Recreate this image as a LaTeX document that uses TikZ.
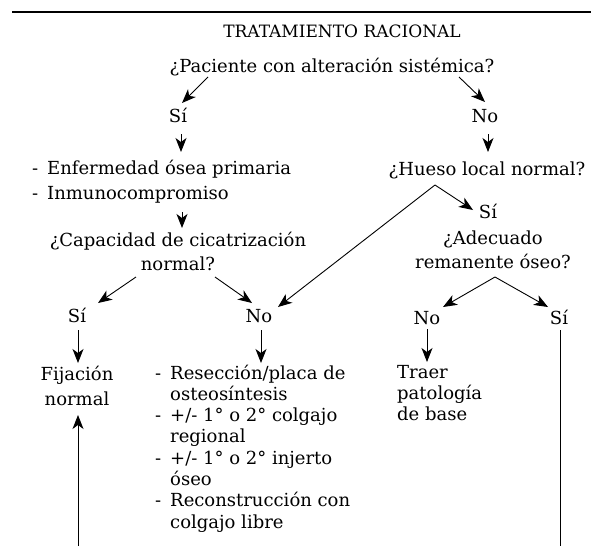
\documentclass[tikz,border=0pt]{standalone}
\usepackage{fontspec}
\setmainfont{DejaVu Serif}
\usetikzlibrary{arrows.meta}
\newcommand\blk[2]{\begin{tabular}[t]{@{}#1@{}}#2\end{tabular}}
\newcommand\itm[1]{\makebox[15pt][l]{-}#1}
\newcommand\cnt[1]{\hspace*{15pt}#1}
\begin{document}
\begin{tikzpicture}[x=1pt,y=1pt,
  txt/.style={inner sep=0pt, anchor=base, font=\fontsize{18}{21}\selectfont},
  txtl/.style={txt, anchor=base west},
  arr/.style={line width=0.9pt, -{Stealth[length=14pt,width=11pt,inset=4pt,fill=black]}},
  ln/.style={line width=0.9pt}]
\useasboundingbox (0,0) rectangle (591,-546);
\draw[line width=1.3pt] (12,-12) -- (591,-12);
% nodes
\node[txt, font=\fontsize{17}{21}\selectfont] (title) at (342,-37) {TRATAMIENTO RACIONAL};
\node[txt] (q1) at (332,-72) {¿Paciente con alteración sistémica?};
\node[txt] (si1) at (178,-122) {Sí};
\node[txt] (no1) at (485,-122) {No};
\node[txtl, font=\fontsize{18}{25}\selectfont] (l1) at (32,-174) {\blk{l}{\itm{Enfermedad ósea primaria}\\\itm{Inmunocompromiso}}};
\node[txt, font=\fontsize{18}{24}\selectfont] (q2) at (178,-246) {\blk{c}{¿Capacidad de cicatrización\\normal?}};
\node[txt] (q3) at (487,-175) {¿Hueso local normal?};
\node[txt] (si3) at (488,-218) {Sí};
\node[txt, font=\fontsize{18}{24}\selectfont] (q4) at (493,-244) {\blk{c}{¿Adecuado\\remanente óseo?}};
\node[txt] (si2) at (77,-322) {Sí};
\node[txt] (no2) at (259,-322) {No};
\node[txt] (no4) at (427,-324) {No};
\node[txt] (si4) at (559,-324) {Sí};
\node[txt, font=\fontsize{18}{25}\selectfont] (fij) at (77,-380) {\blk{c}{Fijación\\normal}};
\node[txtl, font=\fontsize{18}{21.3}\selectfont] (res) at (155,-379) {\blk{l}{\itm{Resección/placa de}\\\cnt{osteosíntesis}\\\itm{+/- 1° o 2° colgajo}\\\cnt{regional}\\\itm{+/- 1° o 2° injerto}\\\cnt{óseo}\\\itm{Reconstrucción con}\\\cnt{colgajo libre}}};
\node[txtl, font=\fontsize{18}{21}\selectfont] (tr) at (397,-378) {\blk{l}{Traer\\patología\\de base}};
\coordinate (b1) at (78,-546);
\coordinate (b2) at (560,-546);
% connectors
\draw[arr] ([shift={(-124,-5)}]q1.base) -- ([shift={(4,19)}]si1.base);
\draw[arr] ([shift={(127,-5)}]q1.base) -- ([shift={(0,20)}]no1.base);
\draw[arr] ([shift={(3,-12)}]si1.base) -- ([shift={(149,22)}]l1.base west);
\draw[arr] ([shift={(3,-12)}]no1.base) -- ([shift={(1,23)}]q3.base);
\draw[arr] ([shift={(150,-38)}]l1.base west) -- ([shift={(4,18)}]q2.base);
\draw[arr] ([shift={(-42,-31)}]q2.base) -- ([shift={(21,19)}]si2.base);
\draw[arr] ([shift={(37,-31)}]q2.base) -- ([shift={(-7,19)}]no2.base);
\draw[arr] ([shift={(-52,-10)}]q3.base) -- ([shift={(-15,8)}]si3.base);
\draw[arr] ([shift={(-52,-10)}]q3.base) -- ([shift={(19,15)}]no2.base);
\draw[arr] ([shift={(2,-33)}]q4.base) -- ([shift={(16,17)}]no4.base);
\draw[arr] ([shift={(2,-33)}]q4.base) -- ([shift={(-11,17)}]si4.base);
\draw[arr] ([shift={(1,-8)}]si2.base) -- ([shift={(1,17)}]fij.base);
\draw[arr] ([shift={(2,-8)}]no2.base) -- ([shift={(106,16)}]res.base west);
\draw[arr] ([shift={(0,-5)}]no4.base) -- ([shift={(30,16)}]tr.base west);
\draw[ln] ([shift={(1,-6)}]si4.base) -- (b2);
\draw[arr] (b1) -- ([shift={(1,-35)}]fij.base);
\end{tikzpicture}
\end{document}
